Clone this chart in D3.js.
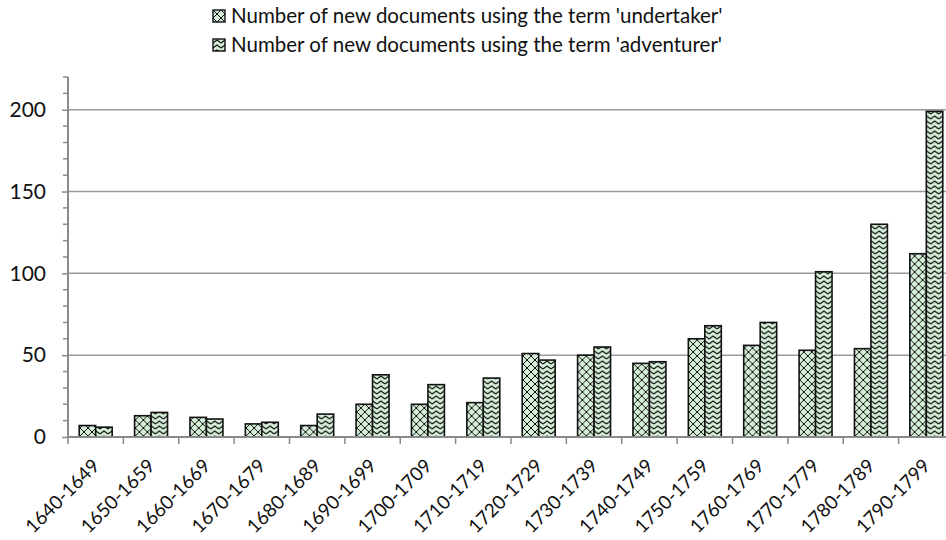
<!DOCTYPE html>
<html>
<head>
<meta charset="utf-8">
<script src="https://cdn.jsdelivr.net/npm/d3@7"></script>
<style>
  body { margin: 0; background: #fff; }
  svg { display: block; font-family: Lato, 'Open Sans', sans-serif; }
</style>
</head>
<body>
<div id="chart"></div>
<script>
var decades = ["1640-1649","1650-1659","1660-1669","1670-1679","1680-1689","1690-1699","1700-1709","1710-1719",
               "1720-1729","1730-1739","1740-1749","1750-1759","1760-1769","1770-1779","1780-1789","1790-1799"];
var undertaker = [7, 13, 12, 8, 7, 20, 20, 21, 51, 50, 45, 60, 56, 53, 54, 112];
var adventurer = [6, 15, 11, 9, 14, 38, 32, 36, 47, 55, 46, 68, 70, 101, 130, 199];
var seriesNames = ["Number of new documents using the term 'undertaker'",
                   "Number of new documents using the term 'adventurer'"];
var yTicks = [0, 50, 100, 150, 200];

var W = 946, H = 540;
var plotL = 68, plotR = 954, plotT = 77, plotB = 437;
var fillColor = "#d3edd7";

var svg = d3.select("#chart").append("svg").attr("width", W).attr("height", H);
var defs = svg.append("defs");

// cross hatch for undertaker
var p1 = defs.append("pattern").attr("id", "pat0").attr("patternUnits", "userSpaceOnUse")
    .attr("width", 8).attr("height", 8);
p1.append("rect").attr("width", 8).attr("height", 8).attr("fill", fillColor);
p1.append("path").attr("d", "M0,0L8,8M8,0L0,8").attr("stroke", "#111").attr("stroke-width", 1);

// chevron waves for adventurer
var p2 = defs.append("pattern").attr("id", "pat1").attr("patternUnits", "userSpaceOnUse")
    .attr("width", 8).attr("height", 5);
p2.append("rect").attr("width", 8).attr("height", 5).attr("fill", fillColor);
p2.append("path").attr("d", "M0,4L4,1L8,4").attr("stroke", "#111").attr("stroke-width", 1.1).attr("fill", "none");

var x = d3.scaleBand().domain(decades).range([plotL, plotR]).paddingInner(0).paddingOuter(0);
var x1 = d3.scaleBand().domain([0, 1]).range([0, x.bandwidth()]).paddingOuter(0.68).paddingInner(0);
var y = d3.scaleLinear().domain([0, 220]).range([plotB, plotT]);

// gridlines
svg.append("g").selectAll("line").data(yTicks.slice(1)).enter().append("line")
    .attr("x1", plotL).attr("x2", W).attr("y1", d => y(d)).attr("y2", d => y(d))
    .attr("stroke", "#9a9a9a").attr("stroke-width", 1.5);

// y axis
var yAxis = d3.axisLeft(y).tickValues(yTicks).tickSize(6).tickFormat(d3.format("d"));
var yg = svg.append("g").attr("transform", "translate(" + plotL + ",0)").call(yAxis);
yg.select(".domain").remove();
yg.selectAll(".tick line").attr("stroke", "#8a8a8a").attr("stroke-width", 1.5);
yg.selectAll(".tick text").attr("x", -22).attr("font-size", 21).attr("fill", "#111")
    .attr("font-family", "Lato, sans-serif");
var minor = d3.range(0, 221, 10).filter(d => d % 50 !== 0);
svg.append("g").selectAll("line").data(minor).enter().append("line")
    .attr("x1", plotL - 5).attr("x2", plotL).attr("y1", d => y(d)).attr("y2", d => y(d))
    .attr("stroke", "#8a8a8a").attr("stroke-width", 1.5);
svg.append("line").attr("x1", plotL).attr("x2", plotL).attr("y1", plotT).attr("y2", plotB)
    .attr("stroke", "#8a8a8a").attr("stroke-width", 2);

// bars
var data = decades.map((d, i) => ({ decade: d, vals: [undertaker[i], adventurer[i]] }));
var groups = svg.append("g").selectAll("g").data(data).enter().append("g")
    .attr("transform", d => "translate(" + x(d.decade) + ",0)");
groups.selectAll("rect").data(d => d.vals).enter().append("rect")
    .attr("x", (v, i) => x1(i)).attr("width", x1.bandwidth())
    .attr("y", v => y(v)).attr("height", v => y(0) - y(v))
    .attr("fill", (v, i) => "url(#pat" + i + ")")
    .attr("stroke", "#111").attr("stroke-width", 1.6);

// x axis
var xAxis = d3.axisBottom(x).tickSize(0).tickSizeOuter(0);
var xg = svg.append("g").attr("transform", "translate(0," + plotB + ")").call(xAxis);
xg.select(".domain").attr("stroke", "#8a8a8a").attr("stroke-width", 2)
    .attr("d", "M" + plotL + ",0H" + W);
svg.append("g").selectAll("line").data(decades).enter().append("line")
    .attr("x1", d => x(d)).attr("x2", d => x(d)).attr("y1", plotB).attr("y2", plotB + 7)
    .attr("stroke", "#8a8a8a").attr("stroke-width", 1.5);
xg.selectAll(".tick text")
    .attr("font-size", 19).attr("fill", "#111").attr("font-family", "Lato, sans-serif")
    .attr("text-anchor", "end").attr("dy", 0).attr("y", 0)
    .attr("transform", "translate(5,30) rotate(-45)");

// legend
var legend = svg.append("g").selectAll("g").data(seriesNames).enter().append("g")
    .attr("transform", (d, i) => "translate(213," + (10 + i * 29) + ")");
legend.append("rect").attr("width", 12).attr("height", 12)
    .attr("fill", (d, i) => "url(#pat" + i + ")").attr("stroke", "#111").attr("stroke-width", 1.4);
legend.append("text").attr("x", 18).attr("y", 6).attr("dy", "0.35em")
    .attr("font-size", 20.5).attr("fill", "#111").text(d => d);
</script>
</body>
</html>
